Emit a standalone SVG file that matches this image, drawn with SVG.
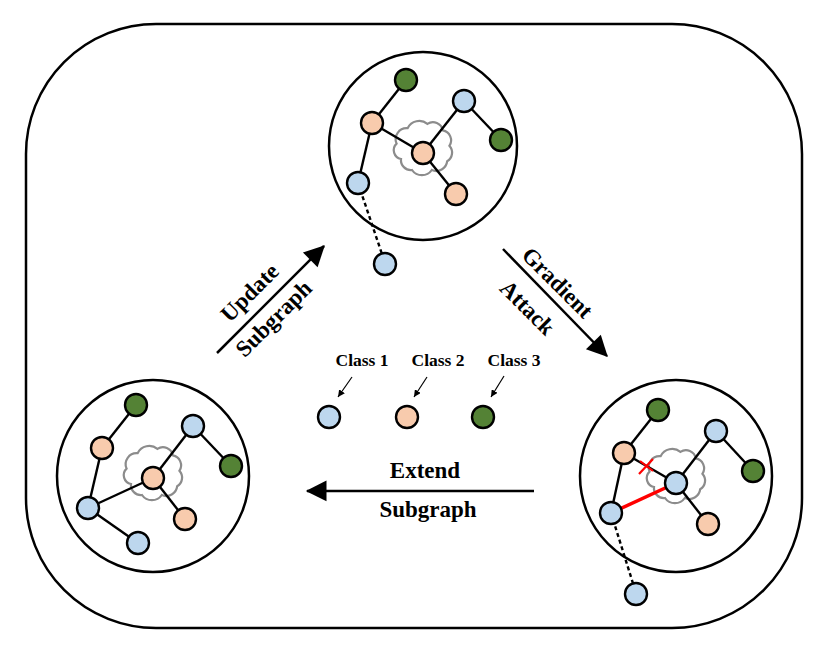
<svg xmlns="http://www.w3.org/2000/svg" width="830" height="655" viewBox="0 0 830 655">
<defs>
<style>
.frame{fill:none;stroke:#000;stroke-width:2.5}
.ring{fill:none;stroke:#000;stroke-width:2.5}
.e{stroke:#000;stroke-width:2.4;fill:none}
.d{stroke:#000;stroke-width:2.4;stroke-dasharray:4,3;fill:none}
.red{stroke:#FF0000;stroke-width:3.5;fill:none}
.b{fill:#BDD7EE;stroke:#000;stroke-width:2.4}
.p{fill:#F8CBAD;stroke:#000;stroke-width:2.4}
.g{fill:#548235;stroke:#000;stroke-width:2.4}
.cloud{fill:none;stroke:#8C8C8C;stroke-width:2.2}
.lbl{font-family:"Liberation Serif","Times New Roman",serif;font-weight:bold;font-size:23px;fill:#000;text-anchor:middle}
.cls{font-family:"Liberation Serif","Times New Roman",serif;font-weight:bold;font-size:17.5px;fill:#000;text-anchor:middle}
.arr{stroke:#000;stroke-width:2.5;fill:none}
.sa{stroke:#000;stroke-width:1.2;fill:none}
</style>
<marker id="ah" viewBox="0 0 10 10" refX="9" refY="5" markerWidth="9" markerHeight="9" markerUnits="userSpaceOnUse" orient="auto" style="overflow:visible">
<path d="M0,0 L10,5 L0,10 z" fill="#000" transform="scale(2.3) translate(-5.5,-2.8)"/>
</marker>
<marker id="sh" viewBox="0 0 10 10" refX="10" refY="5" markerWidth="7" markerHeight="7" markerUnits="userSpaceOnUse" orient="auto">
<path d="M0,0 L10,5 L0,10 z" fill="#000"/>
</marker>
<path id="cl" d="M -22,9 a 9,9 0 0 1 -4.4,-15.4 a 11,11 0 0 1 11,-15.4 a 13,13 0 0 1 19.8,-4.4 a 10,10 0 0 1 15.4,6.6 a 10,10 0 0 1 6.6,15.4 a 10,10 0 0 1 -2.2,15.4 a 11,11 0 0 1 -15.4,8.8 a 12,12 0 0 1 -19.8,0 a 10,10 0 0 1 -11,-11 z"/>
</defs>
<rect width="830" height="655" fill="#fff"/>
<rect class="frame" x="26" y="24" width="776" height="604" rx="130" ry="130"/>

<g id="top-subgraph">
<circle class="ring" cx="423" cy="146" r="94"/>
<use href="#cl" class="cloud" x="423" y="150"/>
<g id="top-edges">
<line class="e" x1="406" y1="80" x2="372" y2="123"/>
<line class="e" x1="372" y1="123" x2="423" y2="153"/>
<line class="e" x1="372" y1="123" x2="358" y2="183"/>
<line class="e" x1="423" y1="153" x2="464" y2="101"/>
<line class="e" x1="464" y1="101" x2="501" y2="140"/>
<line class="e" x1="423" y1="153" x2="456" y2="194"/>
<line class="d" x1="358" y1="183" x2="385" y2="263"/>
</g>
<circle class="g" cx="406" cy="80" r="11"/>
<circle class="b" cx="464" cy="101" r="11"/>
<circle class="g" cx="501" cy="140" r="11"/>
<circle class="p" cx="372" cy="123" r="11"/>
<circle class="p" cx="423" cy="153" r="11"/>
<circle class="b" cx="358" cy="183" r="11"/>
<circle class="p" cx="456" cy="194" r="11"/>
<circle class="b" cx="385" cy="264" r="11"/>
</g>

<g id="left-subgraph">
<circle class="ring" cx="153" cy="476" r="96"/>
<use href="#cl" class="cloud" x="153" y="475"/>
<g id="left-edges">
<line class="e" x1="136" y1="405" x2="102" y2="448"/>
<line class="e" x1="102" y1="448" x2="88" y2="508"/>
<line class="e" x1="88" y1="508" x2="153" y2="478"/>
<line class="e" x1="153" y1="478" x2="193" y2="426"/>
<line class="e" x1="193" y1="426" x2="231" y2="466"/>
<line class="e" x1="153" y1="478" x2="185" y2="519"/>
<line class="e" x1="88" y1="508" x2="138" y2="543"/>
</g>
<circle class="g" cx="136" cy="405" r="11"/>
<circle class="b" cx="193" cy="426" r="11"/>
<circle class="g" cx="231" cy="466" r="11"/>
<circle class="p" cx="102" cy="448" r="11"/>
<circle class="p" cx="153" cy="478" r="11"/>
<circle class="b" cx="88" cy="508" r="11"/>
<circle class="p" cx="185" cy="519" r="11"/>
<circle class="b" cx="138" cy="543" r="11"/>
</g>

<g id="right-subgraph">
<circle class="ring" cx="676" cy="476" r="96"/>
<use href="#cl" class="cloud" x="676" y="478"/>
<g id="right-edges">
<line class="e" x1="658" y1="410" x2="624" y2="453"/>
<line class="e" x1="624" y1="453" x2="611" y2="513"/>
<line class="e" x1="624" y1="453" x2="676" y2="483"/>
<line class="e" x1="676" y1="483" x2="716" y2="431"/>
<line class="e" x1="716" y1="431" x2="753" y2="471"/>
<line class="e" x1="676" y1="483" x2="708" y2="524"/>
<line class="red" x1="611" y1="513" x2="676" y2="483"/>
<line class="d" x1="611" y1="513" x2="636" y2="593"/>
<path d="M639,474 L653,459 M640,461 L653,471" stroke="#FF0000" stroke-width="2.2" fill="none"/>
</g>
<circle class="g" cx="658" cy="410" r="11"/>
<circle class="b" cx="716" cy="431" r="11"/>
<circle class="g" cx="753" cy="471" r="11"/>
<circle class="p" cx="624" cy="453" r="11"/>
<circle class="b" cx="676" cy="483" r="11"/>
<circle class="b" cx="611" cy="513" r="11"/>
<circle class="p" cx="708" cy="524" r="11"/>
<circle class="b" cx="636" cy="594" r="11"/>
</g>

<g id="connectors">
<line class="arr" x1="217" y1="353" x2="324" y2="246" marker-end="url(#ah)"/>
<line class="arr" x1="503" y1="249" x2="607" y2="356" marker-end="url(#ah)"/>
<line class="arr" x1="534" y1="491" x2="307" y2="491" marker-end="url(#ah)"/>
</g>

<g id="labels">
<text class="lbl" transform="translate(255,298) rotate(-45)">Update</text>
<text class="lbl" transform="translate(279,324) rotate(-45)">Subgraph</text>
<text class="lbl" transform="translate(552,288) rotate(45)">Gradient</text>
<text class="lbl" transform="translate(522,313) rotate(45)">Attack</text>
<text class="lbl" x="425" y="478">Extend</text>
<text class="lbl" x="428" y="517">Subgraph</text>
</g>

<g id="legend">
<text class="cls" x="362" y="366">Class 1</text>
<text class="cls" x="438" y="366">Class 2</text>
<text class="cls" x="514" y="366">Class 3</text>
<line class="sa" x1="352" y1="377" x2="338" y2="397" marker-end="url(#sh)"/>
<line class="sa" x1="427" y1="377" x2="414" y2="397" marker-end="url(#sh)"/>
<line class="sa" x1="504" y1="376" x2="491" y2="397" marker-end="url(#sh)"/>
<circle class="b" cx="329" cy="417" r="11"/>
<circle class="p" cx="407" cy="417" r="11"/>
<circle class="g" cx="483" cy="417" r="11"/>
</g>
</svg>
